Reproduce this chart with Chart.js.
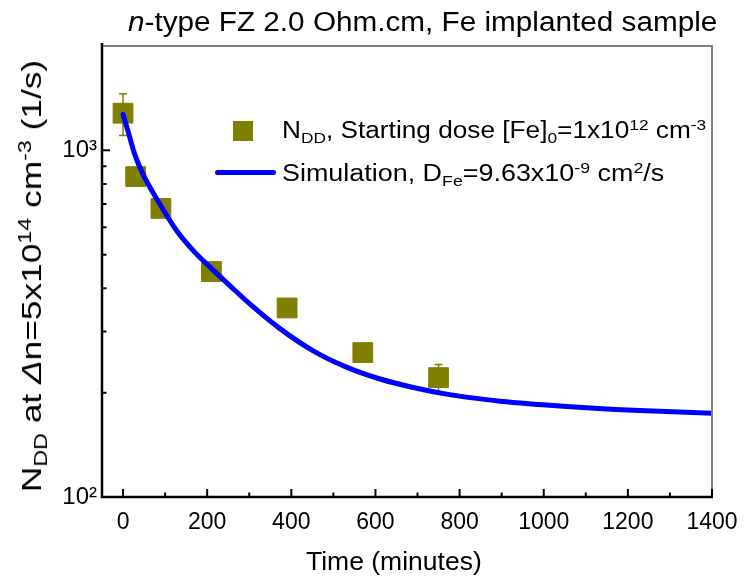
<!DOCTYPE html>
<html>
<head>
<meta charset="utf-8">
<script src="https://cdn.jsdelivr.net/npm/chart.js@4.4.1/dist/chart.umd.min.js"></script>
<style>
  body { margin: 0; background: #fff; }
  #wrap { position: relative; width: 744px; height: 577px; font-family: "Liberation Sans", Arial, sans-serif; color: #000; overflow: hidden; }
  canvas { position: absolute; left: 0; top: 0; }
  .t { position: absolute; white-space: nowrap; line-height: 1; transform-origin: 0 0; }
  sub, sup { font-size: 0.66em; line-height: 0; }
  sub { vertical-align: -0.3em; }
  sup { vertical-align: 0.55em; }
  #title { left: 128px; top: 9px; font-size: 27px; transform: scaleX(1.1); }
  #xt { left: 306px; top: 548px; font-size: 26.5px; }
  #yt { left: 32px; top: 276px; font-size: 28px; transform-origin: 50% 50%; transform: translate(-50%, -50%) rotate(-90deg) scaleX(1.26); }
  #l1 { left: 282px; top: 118.5px; font-size: 23px; transform: scaleX(1.14); }
  #l2 { left: 282px; top: 161.5px; font-size: 23px; transform: scaleX(1.17); }
  #sq { position: absolute; left: 233px; top: 121px; width: 20px; height: 20px; background: #808000; }
  #ln { position: absolute; left: 215px; top: 170px; width: 61px; height: 5px; background: #0000ff; border-radius: 2.5px; }
</style>
</head>
<body>
<div id="wrap">
  <canvas id="c" width="744" height="577"></canvas>
  <div class="t" id="title"><i>n</i>-type FZ 2.0 Ohm.cm, Fe implanted sample</div>
  <div class="t" id="xt">Time (minutes)</div>
  <div class="t" id="yt">N<sub>DD</sub> at <i>&Delta;</i>n=5x10<sup>14</sup> cm<sup>-3</sup> (1/s)</div>
  <div id="sq"></div>
  <div class="t" id="l1">N<sub>DD</sub>, Starting dose [Fe]<sub>0</sub>=1x10<sup>12</sup> cm<sup>-3</sup></div>
  <div id="ln"></div>
  <div class="t" id="l2">Simulation, D<sub>Fe</sub>=9.63x10<sup>-9</sup> cm<sup>2</sup>/s</div>
</div>
<script>
// measured N_DD points
const times = [0, 30, 90, 210, 390, 570, 750];
const nddValues = [1280, 840, 680, 447, 351, 261, 221];
const nddErrors = [176, 30, 25, 15, 12, 10, 20];

// simulation curve, D_Fe = 9.63e-9 cm2/s
const simTimes = [0, 12, 28, 48, 88, 128, 168, 208, 254, 302, 373, 452, 531, 611, 690, 769, 825, 896, 1055, 1213, 1400];
const simValues = [1270, 1134, 972, 851, 698, 585, 512, 459, 407, 360, 306, 264, 237, 219, 207, 198, 193.5, 189, 182.5, 178, 174.5];

// axes
const xTickValues = [0, 200, 400, 600, 800, 1000, 1200, 1400];
const xMinorTicks = [100, 300, 500, 700, 900, 1100, 1300];
const yTickValues = [100, 1000];
const yMinorTicks = [200, 300, 400, 500, 600, 700, 800, 900];
const yTickLabels = { 100: '10\u00b2', 1000: '10\u00b3' };

const olive = '#808000';

const errorBars = {
  id: 'errorBars',
  beforeDatasetsDraw(chart) {
    const { ctx, scales: { x, y } } = chart;
    ctx.save();
    ctx.strokeStyle = olive;
    ctx.lineWidth = 1.5;
    times.forEach((t, i) => {
      const px = x.getPixelForValue(t);
      const top = y.getPixelForValue(nddValues[i] + nddErrors[i]);
      const bot = y.getPixelForValue(nddValues[i] - nddErrors[i]);
      ctx.beginPath();
      ctx.moveTo(px, top); ctx.lineTo(px, bot);
      ctx.moveTo(px - 4, top); ctx.lineTo(px + 4, top);
      ctx.moveTo(px - 4, bot); ctx.lineTo(px + 4, bot);
      ctx.stroke();
    });
    ctx.restore();
  }
};

const frame = {
  id: 'frame',
  afterDatasetsDraw(chart) {
    const { ctx, chartArea: a, scales: { x, y } } = chart;
    ctx.save();
    ctx.strokeStyle = '#808080';
    ctx.lineWidth = 2;
    ctx.beginPath();
    ctx.moveTo(a.left, a.top); ctx.lineTo(a.right, a.top); ctx.lineTo(a.right, a.bottom);
    ctx.stroke();

    ctx.strokeStyle = '#000';
    ctx.lineWidth = 2;
    ctx.beginPath();
    xTickValues.forEach(v => { const p = x.getPixelForValue(v); ctx.moveTo(p, a.bottom); ctx.lineTo(p, a.bottom - 8); });
    xMinorTicks.forEach(v => { const p = x.getPixelForValue(v); ctx.moveTo(p, a.bottom); ctx.lineTo(p, a.bottom - 4.5); });
    yTickValues.forEach(v => { const p = y.getPixelForValue(v); ctx.moveTo(a.left, p); ctx.lineTo(a.left + 8, p); });
    yMinorTicks.forEach(v => { const p = y.getPixelForValue(v); ctx.moveTo(a.left, p); ctx.lineTo(a.left + 4.5, p); });
    ctx.stroke();

    ctx.lineWidth = 2.5;
    ctx.beginPath();
    ctx.moveTo(a.left, a.top - 3); ctx.lineTo(a.left, a.bottom); ctx.lineTo(a.right + 1, a.bottom);
    ctx.stroke();
    ctx.restore();
  }
};

new Chart(document.getElementById('c'), {
  data: {
    datasets: [
      {
        type: 'line',
        label: 'Simulation',
        data: simTimes.map((t, i) => ({ x: t, y: simValues[i] })),
        borderColor: '#0000ff',
        borderWidth: 5,
        pointRadius: 0,
        cubicInterpolationMode: 'monotone',
        borderCapStyle: 'round',
        order: 0
      },
      {
        type: 'scatter',
        label: 'NDD',
        data: times.map((t, i) => ({ x: t, y: nddValues[i] })),
        pointStyle: 'rect',
        pointRadius: 14,
        pointBorderWidth: 1,
        backgroundColor: olive,
        borderColor: olive,
        order: 1
      }
    ]
  },
  options: {
    responsive: false,
    animation: false,
    devicePixelRatio: 1,
    layout: { padding: { top: 46, right: 32, left: 0, bottom: 0 } },
    plugins: { legend: { display: false }, tooltip: { enabled: false } },
    scales: {
      x: {
        type: 'linear',
        min: -50,
        max: 1400,
        grid: { display: false, drawTicks: false },
        border: { display: false },
        afterBuildTicks: s => { s.ticks = xTickValues.map(v => ({ value: v })); },
        afterFit: s => { s.height = 80; s.paddingLeft = 0; s.paddingRight = 0; },
        ticks: {
          padding: 12,
          maxRotation: 0,
          autoSkip: false,
          color: '#000',
          font: { family: '"Liberation Sans", Arial, sans-serif', size: 23 },
          callback: v => String(v)
        }
      },
      y: {
        type: 'logarithmic',
        min: 100,
        max: 2000,
        grid: { display: false, drawTicks: false },
        border: { display: false },
        afterBuildTicks: s => { s.ticks = yTickValues.map(v => ({ value: v })); },
        afterFit: s => { s.width = 102; s.paddingTop = 0; s.paddingBottom = 0; },
        ticks: {
          padding: 5,
          autoSkip: false,
          color: '#000',
          font: { family: '"Liberation Sans", Arial, sans-serif', size: 24 },
          callback: v => yTickLabels[v] || ''
        }
      }
    }
  },
  plugins: [errorBars, frame]
});
</script>
</body>
</html>
